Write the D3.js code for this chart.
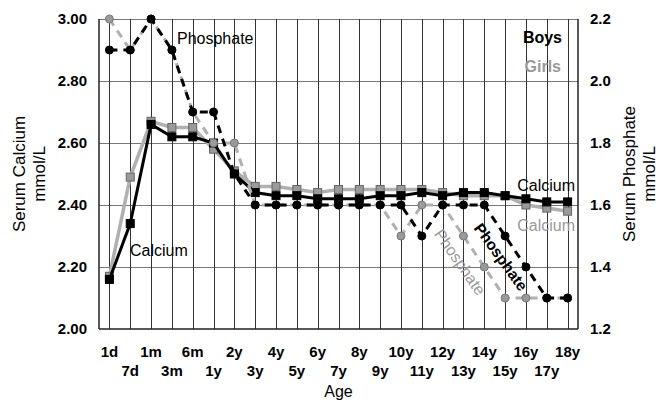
<!DOCTYPE html>
<html>
<head>
<meta charset="utf-8">
<script src="https://cdn.jsdelivr.net/npm/d3@7"></script>
<style>
  body { margin: 0; background: #fff; }
  svg { display: block; font-family: Arial, "Liberation Sans", sans-serif; }
</style>
</head>
<body>
<div id="chart"></div>
<script>
// age categories along the x axis
const ages = ["1d","7d","1m","3m","6m","1y","2y","3y","4y","5y","6y","7y","8y","9y","10y",
              "11y","12y","13y","14y","15y","16y","17y","18y"];

// serum calcium, mmol/L (left axis)
const calciumBoys  = [2.16,2.34,2.66,2.62,2.62,2.60,2.50,2.44,2.43,2.43,2.42,2.42,2.42,2.43,2.43,2.44,2.43,2.44,2.44,2.43,2.42,2.41,2.41];
const calciumGirls = [2.17,2.49,2.67,2.65,2.65,2.58,2.51,2.46,2.46,2.45,2.44,2.45,2.45,2.45,2.45,2.45,2.44,2.43,2.43,2.43,2.40,2.39,2.38];

// serum phosphate, mmol/L (right axis)
const phosphateBoys  = [2.1,2.1,2.2,2.1,1.9,1.9,1.7,1.6,1.6,1.6,1.6,1.6,1.6,1.6,1.6,1.5,1.6,1.6,1.6,1.5,1.4,1.3,1.3];
const phosphateGirls = [2.2,2.1,2.2,2.1,1.9,1.8,1.8,1.6,1.6,1.6,1.6,1.6,1.6,1.6,1.5,1.6,1.6,1.5,1.4,1.3,1.3,1.3,1.3];

const calciumTicks = [2.0, 2.2, 2.4, 2.6, 2.8, 3.0];
const phosphateTicks = [1.2, 1.4, 1.6, 1.8, 2.0, 2.2];

const width = 659, height = 404;
const margin = {top: 19, right: 81, bottom: 75, left: 99};

const svg = d3.select("#chart").append("svg")
    .attr("width", width)
    .attr("height", height);

const x = d3.scaleBand().domain(ages).range([margin.left, width - margin.right]).padding(0);
const cx = d => x(d) + x.bandwidth() / 2;
const yCa = d3.scaleLinear().domain([2.0, 3.0]).range([height - margin.bottom, margin.top]);
const yP = d3.scaleLinear().domain([1.2, 2.2]).range([height - margin.bottom, margin.top]);

const x0 = margin.left, x1 = width - margin.right;
const y0 = height - margin.bottom, y1 = margin.top;

// grid
const grid = svg.append("g").attr("stroke", "#555").attr("stroke-width", 1);
grid.selectAll(".h").data(calciumTicks.slice(1)).join("line")
    .attr("x1", x0).attr("x2", x1)
    .attr("y1", d => Math.round(yCa(d)) + 0.5).attr("y2", d => Math.round(yCa(d)) + 0.5)
    .attr("stroke", "#777");
grid.selectAll(".v").data(ages).join("line")
    .attr("x1", d => Math.round(cx(d)) + 0.5).attr("x2", d => Math.round(cx(d)) + 0.5)
    .attr("y1", y1).attr("y2", y0)
    .attr("stroke", "#333");

// frame
svg.append("line").attr("x1", x0).attr("x2", x0).attr("y1", y1).attr("y2", y0).attr("stroke", "#222").attr("stroke-width", 1.5);
svg.append("line").attr("x1", x1).attr("x2", x1).attr("y1", y1).attr("y2", y0).attr("stroke", "#222").attr("stroke-width", 1.5);
svg.append("line").attr("x1", x0).attr("x2", x1).attr("y1", y0).attr("y2", y0).attr("stroke", "#222").attr("stroke-width", 1.5);

// left axis
svg.append("g").selectAll("text").data(calciumTicks).join("text")
    .attr("x", 87).attr("y", d => yCa(d)).attr("dy", "0.35em")
    .attr("text-anchor", "end").attr("font-size", 15).attr("font-weight", "bold")
    .text(d => d3.format(".2f")(d));

// right axis
svg.append("g").selectAll("text").data(phosphateTicks).join("text")
    .attr("x", 590).attr("y", d => yP(d)).attr("dy", "0.35em")
    .attr("text-anchor", "start").attr("font-size", 15).attr("font-weight", "bold")
    .text(d => d3.format(".1f")(d));

// x axis labels, alternating rows
svg.append("g").selectAll("text").data(ages).join("text")
    .attr("x", d => cx(d))
    .attr("y", (d, i) => i % 2 === 0 ? 357 : 376)
    .attr("text-anchor", "middle").attr("font-size", 15).attr("font-weight", "bold")
    .text(d => d);

svg.append("text").attr("x", (x0 + x1) / 2).attr("y", 397)
    .attr("text-anchor", "middle").attr("font-size", 16).text("Age");

// axis titles
function vtitle(xp, lines) {
  const t = svg.append("text")
      .attr("transform", `translate(${xp},${(y0 + y1) / 2}) rotate(-90)`)
      .attr("text-anchor", "middle").attr("font-size", 17);
  lines.forEach((l, i) => t.append("tspan").attr("x", 0).attr("dy", i === 0 ? 0 : "1.2em").text(l));
}
vtitle(25, ["Serum Calcium", "mmol/L"]);
vtitle(635, ["Serum Phosphate", "mmol/L"]);

// series
const lineCa = d3.line().x((d, i) => cx(ages[i])).y(d => yCa(d));
const lineP = d3.line().x((d, i) => cx(ages[i])).y(d => yP(d));
const sq = 8;

function squares(data, fill, stroke) {
  svg.append("g").selectAll("rect").data(data).join("rect")
      .attr("x", (d, i) => cx(ages[i]) - sq / 2).attr("y", d => yCa(d) - sq / 2)
      .attr("width", sq).attr("height", sq)
      .attr("fill", fill).attr("stroke", stroke).attr("stroke-width", 1);
}
function dots(data, fill, stroke) {
  svg.append("g").selectAll("circle").data(data).join("circle")
      .attr("cx", (d, i) => cx(ages[i])).attr("cy", d => yP(d)).attr("r", 4)
      .attr("fill", fill).attr("stroke", stroke).attr("stroke-width", 1);
}

svg.append("path").datum(calciumGirls).attr("d", lineCa)
    .attr("fill", "none").attr("stroke", "#b0b0b0").attr("stroke-width", 3.5);
squares(calciumGirls, "#9a9a9a", "#666");

svg.append("path").datum(calciumBoys).attr("d", lineCa)
    .attr("fill", "none").attr("stroke", "#000").attr("stroke-width", 3);
squares(calciumBoys, "#000", "#000");

svg.append("path").datum(phosphateGirls).attr("d", lineP)
    .attr("fill", "none").attr("stroke", "#b0b0b0").attr("stroke-width", 3)
    .attr("stroke-dasharray", "8,6");
dots(phosphateGirls, "#9a9a9a", "#777");

svg.append("path").datum(phosphateBoys).attr("d", lineP)
    .attr("fill", "none").attr("stroke", "#000").attr("stroke-width", 3)
    .attr("stroke-dasharray", "8,6");
dots(phosphateBoys, "#000", "#000");

// annotations
svg.append("text").attr("x", 177).attr("y", 44).attr("font-size", 16).text("Phosphate");
svg.append("text").attr("x", 130).attr("y", 256).attr("font-size", 16).text("Calcium");
svg.append("text").attr("x", 562).attr("y", 43).attr("text-anchor", "end")
    .attr("font-size", 16).attr("font-weight", "bold").text("Boys");
svg.append("text").attr("x", 561).attr("y", 72).attr("text-anchor", "end")
    .attr("font-size", 16).attr("font-weight", "bold").attr("fill", "#999").text("Girls");
svg.append("text").attr("x", 575).attr("y", 191).attr("text-anchor", "end")
    .attr("font-size", 16).text("Calcium");
svg.append("text").attr("x", 575).attr("y", 231).attr("text-anchor", "end")
    .attr("font-size", 16).attr("fill", "#999").text("Calcium");
svg.append("text").attr("transform", "translate(460,262) rotate(55)")
    .attr("text-anchor", "middle").attr("dy", "0.35em")
    .attr("font-size", 16).attr("fill", "#999").text("Phosphate");
svg.append("text").attr("transform", "translate(501,257) rotate(54)")
    .attr("text-anchor", "middle").attr("dy", "0.35em")
    .attr("font-size", 15.5).attr("font-weight", "bold").text("Phosphate");
</script>
</body>
</html>
